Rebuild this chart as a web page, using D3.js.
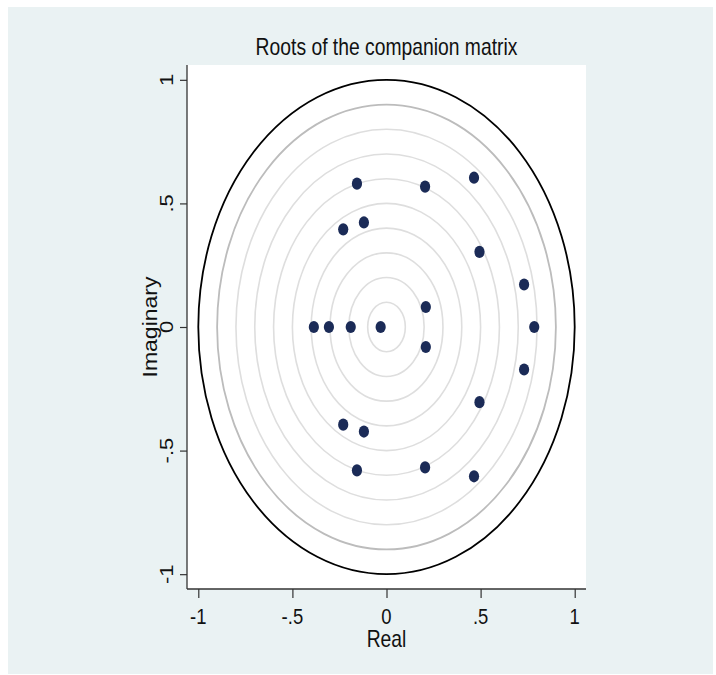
<!DOCTYPE html>
<html>
<head>
<meta charset="utf-8">
<script src="https://cdn.jsdelivr.net/npm/d3@7"></script>
<style>
  html, body { margin: 0; padding: 0; background: #ffffff; }
  svg { display: block; }
  text { font-family: "Liberation Sans", Arial, Helvetica, sans-serif; fill: #111; }
</style>
</head>
<body>
<svg id="chart" width="716" height="675"></svg>
<script>
// ---- data ----
const titleText = "Roots of the companion matrix";
const xTitle = "Real";
const yTitle = "Imaginary";
const realParts = [-0.386, -0.306, -0.190, -0.031, 0.785,
                   0.209, 0.209, 0.731, 0.731, 0.494, 0.494,
                   -0.120, -0.120, -0.230, -0.230, -0.157, -0.157,
                   0.205, 0.205, 0.465, 0.465];
const imagParts = [0, 0, 0, 0, 0,
                   0.081, -0.081, 0.172, -0.172, 0.304, -0.304,
                   0.423, -0.423, 0.395, -0.395, 0.580, -0.580,
                   0.568, -0.568, 0.604, -0.604];
const tickValues = [-1, -0.5, 0, 0.5, 1];
const tickLabels = ["-1", "-.5", "0", ".5", "1"];
const ringRadii = [0.1, 0.2, 0.3, 0.4, 0.5, 0.6, 0.7, 0.8, 0.9, 1.0];

// ---- layout ----
const W = 716, H = 675;
const plot = { left: 187, right: 586, top: 65, bottom: 589 };
const sx = 0.84; // horizontal text compression
const fontSize = 23;
const tickFont = 22;

const svg = d3.select("#chart");

// outer background
svg.append("rect").attr("x", 8).attr("y", 7).attr("width", 705).attr("height", 667)
  .attr("fill", "#eaf2f3");

const x = d3.scaleLinear().domain([-1.06, 1.06]).range([plot.left, plot.right]);
const y = d3.scaleLinear().domain([-1.06, 1.06]).range([plot.bottom, plot.top]);

// plot region
svg.append("rect").attr("x", plot.left).attr("y", plot.top)
  .attr("width", plot.right - plot.left).attr("height", plot.bottom - plot.top)
  .attr("fill", "#ffffff");

// rings
const ringColor = r => r === 1 ? "#000000" : (r === 0.9 ? "#bcbcbc" : "#dedede");
const ringWidth = r => r === 1 ? 1.8 : (r === 0.9 ? 1.8 : 1.6);
svg.append("g").selectAll("ellipse").data(ringRadii).join("ellipse")
  .attr("cx", x(0)).attr("cy", y(0))
  .attr("rx", d => x(d) - x(0)).attr("ry", d => y(0) - y(d))
  .attr("fill", "none")
  .attr("stroke", ringColor)
  .attr("stroke-width", ringWidth);

// points
const pts = realParts.map((re, i) => ({ re, im: imagParts[i] }));
svg.append("g").selectAll("ellipse").data(pts).join("ellipse")
  .attr("cx", d => x(d.re)).attr("cy", d => y(d.im))
  .attr("rx", 5.1).attr("ry", 6.1)
  .attr("fill", "#1b2b57");

// axes
const xAxis = d3.axisBottom(x).tickValues(tickValues).tickSize(9).tickFormat("");
const gx = svg.append("g").attr("transform", `translate(0,${plot.bottom})`).call(xAxis);
gx.select(".domain").attr("stroke", "#333").attr("stroke-width", 1.3)
  .attr("d", `M${plot.left},0H${plot.right}`);
gx.selectAll(".tick line").attr("stroke", "#333").attr("stroke-width", 1.2);

const yAxis = d3.axisLeft(y).tickValues(tickValues).tickSize(7).tickFormat("");
const gy = svg.append("g").attr("transform", `translate(${plot.left},0)`).call(yAxis);
gy.select(".domain").attr("stroke", "#333").attr("stroke-width", 1.3)
  .attr("d", `M0,${plot.top}V${plot.bottom}`);
gy.selectAll(".tick line").attr("stroke", "#333").attr("stroke-width", 1.2);

// tick labels (x)
svg.append("g").selectAll("text").data(tickValues).join("text")
  .attr("transform", d => `translate(${x(d)},624) scale(${sx},1)`)
  .attr("text-anchor", "middle")
  .attr("font-size", tickFont)
  .text((d, i) => tickLabels[i]);

// tick labels (y), rotated
svg.append("g").selectAll("text").data(tickValues).join("text")
  .attr("transform", d => `translate(173,${y(d)}) scale(${sx},1) rotate(-90)`)
  .attr("text-anchor", "middle")
  .attr("font-size", tickFont)
  .text((d, i) => tickLabels[i]);

// axis titles
svg.append("text")
  .attr("transform", `translate(${(plot.left + plot.right) / 2},647) scale(${sx},1)`)
  .attr("text-anchor", "middle").attr("font-size", fontSize).text(xTitle);
svg.append("text")
  .attr("transform", `translate(157,${y(0)}) scale(${sx},1) rotate(-90)`)
  .attr("text-anchor", "middle").attr("font-size", fontSize).text(yTitle);

// title
svg.append("text")
  .attr("transform", `translate(${(plot.left + plot.right) / 2},55) scale(${sx},1)`)
  .attr("text-anchor", "middle").attr("font-size", fontSize).text(titleText);
</script>
</body>
</html>
